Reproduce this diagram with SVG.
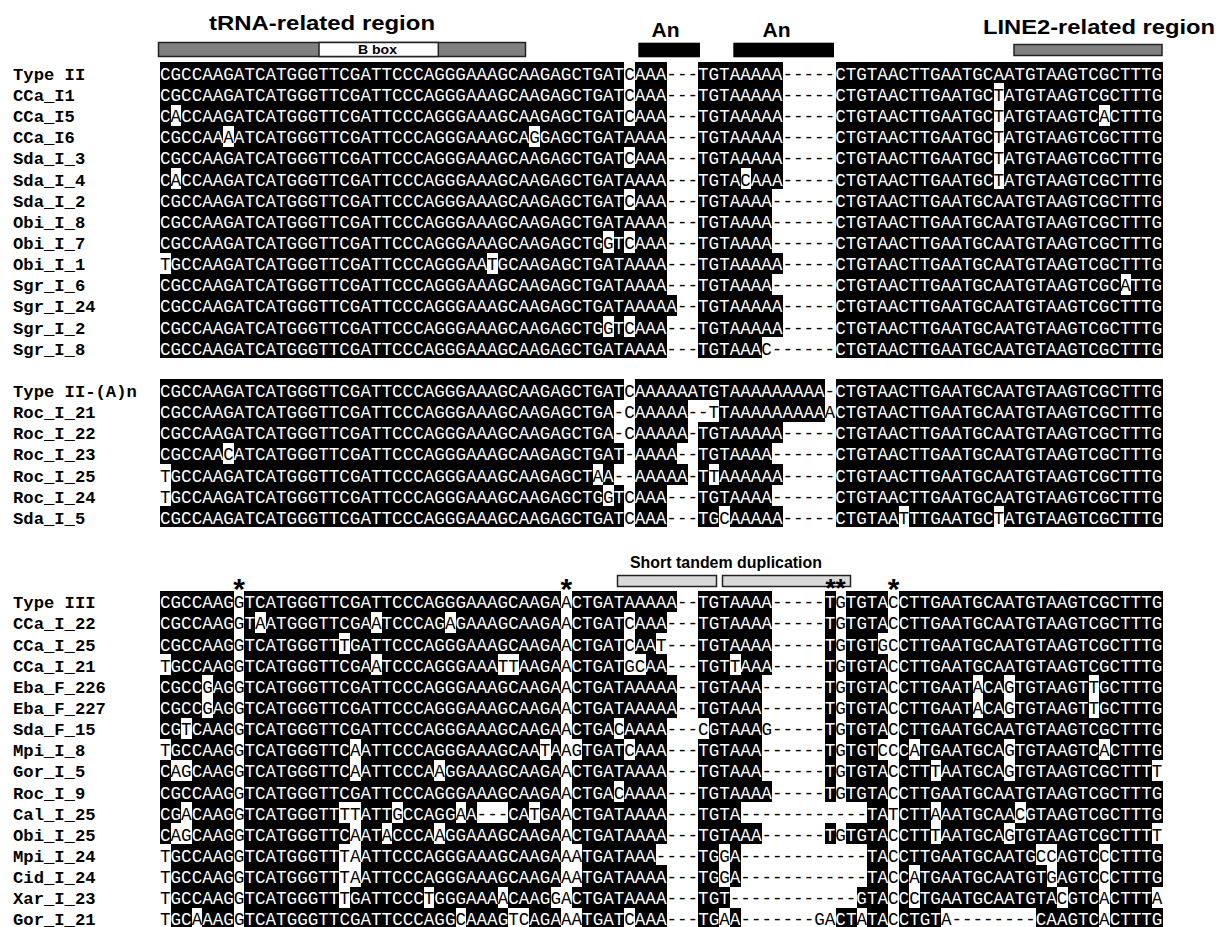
<svg xmlns="http://www.w3.org/2000/svg" width="1219" height="927" viewBox="0 0 1219 927">
<style>
.s{font-family:"Liberation Mono",monospace;font-size:17.59px;fill:#fff}
.k{fill:#000}
.n{font-family:"Liberation Mono",monospace;font-weight:bold;font-size:17.2px;fill:#000}
.h{font-family:"Liberation Sans",Arial,sans-serif;font-weight:bold;fill:#000}
.bar{stroke:#222;stroke-width:1.5}
</style>
<rect width="1219" height="927" fill="#fff"/>
<g id="headers">
<text class="h" x="209" y="30" font-size="20" textLength="226" lengthAdjust="spacingAndGlyphs">tRNA-related region</text>
<rect class="bar" x="158.5" y="42.5" width="367" height="14" fill="#808080"/>
<rect class="bar" x="319" y="42.5" width="119.3" height="14" fill="#fff"/>
<text class="h" x="358" y="54" font-size="12" textLength="39" lengthAdjust="spacingAndGlyphs">B box</text>
<text class="h" x="651.5" y="36.5" font-size="21" textLength="28" lengthAdjust="spacingAndGlyphs">An</text>
<text class="h" x="762.5" y="36.5" font-size="21" textLength="28" lengthAdjust="spacingAndGlyphs">An</text>
<rect x="638.3" y="42.7" width="61.7" height="14.6" fill="#000"/>
<rect x="733.3" y="42.7" width="100.7" height="14.6" fill="#000"/>
<text class="h" x="983" y="34.3" font-size="21" textLength="232" lengthAdjust="spacingAndGlyphs">LINE2-related region</text>
<rect class="bar" x="1014" y="44.5" width="148" height="11" fill="#808080"/>
<text class="h" x="630" y="568" font-size="16" textLength="192" lengthAdjust="spacingAndGlyphs">Short tandem duplication</text>
<rect class="bar" x="617.5" y="575.5" width="99" height="11" fill="#d9d9d9"/>
<rect class="bar" x="722.5" y="575.5" width="128" height="11" fill="#d9d9d9"/>
<text class="h" x="835.5" y="597" font-size="26" text-anchor="middle">**</text>
<text class="h" x="239.2" y="599" font-size="30" text-anchor="middle">*</text>
<text class="h" x="566.4" y="599" font-size="30" text-anchor="middle">*</text>
<text class="h" x="893.6" y="599" font-size="30" text-anchor="middle">*</text>
</g>
<g id="shading" fill="#000" shape-rendering="crispEdges" transform="translate(160 62.3) scale(10.555 21.136)">
<path d="M0 0h44v1h-44zM45 0h3v1h-3zM51 0h8v1h-8zM64 0h31v1h-31z"/>
<path d="M0 1h44v1h-44zM45 1h3v1h-3zM51 1h8v1h-8zM64 1h15v1h-15zM80 1h15v1h-15z"/>
<path d="M0 2h1v1h-1zM2 2h42v1h-42zM45 2h3v1h-3zM51 2h8v1h-8zM64 2h15v1h-15zM80 2h9v1h-9zM90 2h5v1h-5z"/>
<path d="M0 3h6v1h-6zM7 3h28v1h-28zM36 3h12v1h-12zM51 3h8v1h-8zM64 3h15v1h-15zM80 3h15v1h-15z"/>
<path d="M0 4h44v1h-44zM45 4h3v1h-3zM51 4h8v1h-8zM64 4h15v1h-15zM80 4h15v1h-15z"/>
<path d="M0 5h1v1h-1zM2 5h46v1h-46zM51 5h4v1h-4zM56 5h3v1h-3zM64 5h15v1h-15zM80 5h15v1h-15z"/>
<path d="M0 6h44v1h-44zM45 6h3v1h-3zM51 6h7v1h-7zM64 6h31v1h-31z"/>
<path d="M0 7h48v1h-48zM51 7h7v1h-7zM64 7h31v1h-31z"/>
<path d="M0 8h42v1h-42zM43 8h1v1h-1zM45 8h3v1h-3zM51 8h7v1h-7zM64 8h31v1h-31z"/>
<path d="M1 9h30v1h-30zM32 9h16v1h-16zM51 9h8v1h-8zM64 9h31v1h-31z"/>
<path d="M0 10h48v1h-48zM51 10h7v1h-7zM64 10h27v1h-27zM92 10h3v1h-3z"/>
<path d="M0 11h49v1h-49zM51 11h8v1h-8zM64 11h31v1h-31z"/>
<path d="M0 12h42v1h-42zM43 12h1v1h-1zM45 12h3v1h-3zM51 12h8v1h-8zM64 12h31v1h-31z"/>
<path d="M0 13h48v1h-48zM51 13h6v1h-6zM64 13h31v1h-31z"/>
<path d="M0 15h44v1h-44zM45 15h18v1h-18zM64 15h31v1h-31z"/>
<path d="M0 16h43v1h-43zM45 16h5v1h-5zM53 16h10v1h-10zM64 16h31v1h-31z"/>
<path d="M0 17h43v1h-43zM45 17h5v1h-5zM51 17h8v1h-8zM64 17h31v1h-31z"/>
<path d="M0 18h6v1h-6zM7 18h37v1h-37zM45 18h4v1h-4zM51 18h7v1h-7zM64 18h31v1h-31z"/>
<path d="M1 19h40v1h-40zM42 19h1v1h-1zM45 19h5v1h-5zM51 19h1v1h-1zM53 19h6v1h-6zM64 19h31v1h-31z"/>
<path d="M1 20h41v1h-41zM43 20h1v1h-1zM45 20h3v1h-3zM51 20h7v1h-7zM64 20h31v1h-31z"/>
<path d="M0 21h44v1h-44zM45 21h3v1h-3zM51 21h2v1h-2zM54 21h5v1h-5zM64 21h6v1h-6zM71 21h8v1h-8zM80 21h15v1h-15z"/>
<path d="M0 25h7v1h-7zM8 25h30v1h-30zM39 25h10v1h-10zM51 25h7v1h-7zM63 25h1v1h-1zM65 25h4v1h-4zM70 25h25v1h-25z"/>
<path d="M0 26h7v1h-7zM8 26h1v1h-1zM10 26h10v1h-10zM21 26h6v1h-6zM28 26h10v1h-10zM39 26h5v1h-5zM45 26h3v1h-3zM51 26h7v1h-7zM63 26h1v1h-1zM65 26h4v1h-4zM70 26h25v1h-25z"/>
<path d="M0 27h7v1h-7zM8 27h9v1h-9zM18 27h20v1h-20zM39 27h5v1h-5zM45 27h2v1h-2zM51 27h7v1h-7zM63 27h1v1h-1zM65 27h3v1h-3zM70 27h25v1h-25z"/>
<path d="M1 28h6v1h-6zM8 28h12v1h-12zM21 28h11v1h-11zM34 28h4v1h-4zM39 28h5v1h-5zM46 28h2v1h-2zM51 28h3v1h-3zM55 28h3v1h-3zM63 28h1v1h-1zM65 28h4v1h-4zM70 28h25v1h-25z"/>
<path d="M0 29h4v1h-4zM5 29h2v1h-2zM8 29h30v1h-30zM39 29h10v1h-10zM51 29h6v1h-6zM63 29h1v1h-1zM65 29h4v1h-4zM70 29h7v1h-7zM78 29h2v1h-2zM81 29h7v1h-7zM89 29h6v1h-6z"/>
<path d="M0 30h4v1h-4zM5 30h2v1h-2zM8 30h30v1h-30zM39 30h10v1h-10zM51 30h6v1h-6zM63 30h1v1h-1zM65 30h4v1h-4zM70 30h7v1h-7zM78 30h2v1h-2zM81 30h7v1h-7zM89 30h6v1h-6z"/>
<path d="M0 31h2v1h-2zM3 31h4v1h-4zM8 31h30v1h-30zM39 31h4v1h-4zM44 31h4v1h-4zM52 31h5v1h-5zM63 31h1v1h-1zM65 31h4v1h-4zM70 31h25v1h-25z"/>
<path d="M1 32h6v1h-6zM8 32h10v1h-10zM19 32h17v1h-17zM37 32h1v1h-1zM40 32h4v1h-4zM45 32h3v1h-3zM51 32h6v1h-6zM63 32h1v1h-1zM65 32h3v1h-3zM70 32h1v1h-1zM72 32h8v1h-8zM81 32h8v1h-8zM90 32h5v1h-5z"/>
<path d="M0 33h1v1h-1zM3 33h4v1h-4zM8 33h10v1h-10zM19 33h7v1h-7zM27 33h11v1h-11zM39 33h9v1h-9zM51 33h6v1h-6zM63 33h1v1h-1zM65 33h4v1h-4zM70 33h3v1h-3zM74 33h6v1h-6zM81 33h13v1h-13z"/>
<path d="M0 34h7v1h-7zM8 34h30v1h-30zM39 34h4v1h-4zM44 34h4v1h-4zM51 34h7v1h-7zM63 34h1v1h-1zM65 34h4v1h-4zM70 34h25v1h-25z"/>
<path d="M0 35h2v1h-2zM3 35h4v1h-4zM8 35h9v1h-9zM19 35h3v1h-3zM23 35h5v1h-5zM29 35h1v1h-1zM33 35h2v1h-2zM36 35h2v1h-2zM39 35h9v1h-9zM51 35h4v1h-4zM67 35h2v1h-2zM70 35h3v1h-3zM74 35h7v1h-7zM82 35h13v1h-13z"/>
<path d="M0 36h1v1h-1zM3 36h4v1h-4zM8 36h10v1h-10zM19 36h2v1h-2zM22 36h4v1h-4zM27 36h11v1h-11zM39 36h9v1h-9zM51 36h6v1h-6zM63 36h1v1h-1zM65 36h4v1h-4zM70 36h3v1h-3zM74 36h6v1h-6zM81 36h13v1h-13z"/>
<path d="M1 37h6v1h-6zM8 37h9v1h-9zM19 37h19v1h-19zM40 37h7v1h-7zM51 37h2v1h-2zM54 37h1v1h-1zM67 37h2v1h-2zM70 37h13v1h-13zM85 37h4v1h-4zM90 37h5v1h-5z"/>
<path d="M1 38h6v1h-6zM8 38h9v1h-9zM19 38h19v1h-19zM40 38h8v1h-8zM51 38h2v1h-2zM54 38h1v1h-1zM67 38h2v1h-2zM70 38h1v1h-1zM72 38h12v1h-12zM85 38h4v1h-4zM90 38h5v1h-5z"/>
<path d="M1 39h6v1h-6zM8 39h9v1h-9zM18 39h7v1h-7zM26 39h6v1h-6zM33 39h4v1h-4zM39 39h9v1h-9zM51 39h3v1h-3zM66 39h3v1h-3zM70 39h1v1h-1zM72 39h13v1h-13zM86 39h3v1h-3zM90 39h4v1h-4z"/>
<path d="M1 40h2v1h-2zM4 40h3v1h-3zM8 40h20v1h-20zM29 40h4v1h-4zM35 40h3v1h-3zM40 40h4v1h-4zM45 40h3v1h-3zM51 40h2v1h-2zM54 40h1v1h-1zM64 40h2v1h-2zM67 40h2v1h-2zM70 40h4v1h-4zM83 40h6v1h-6zM90 40h5v1h-5z"/>
</g>
<g id="names">
<text class="n" x="13" y="79.9">Type II</text>
<text class="n" x="13" y="101">CCa_I1</text>
<text class="n" x="13" y="122.2">CCa_I5</text>
<text class="n" x="13" y="143.3">CCa_I6</text>
<text class="n" x="13" y="164.4">Sda_I_3</text>
<text class="n" x="13" y="185.6">Sda_I_4</text>
<text class="n" x="13" y="206.7">Sda_I_2</text>
<text class="n" x="13" y="227.9">Obi_I_8</text>
<text class="n" x="13" y="249">Obi_I_7</text>
<text class="n" x="13" y="270.1">Obi_I_1</text>
<text class="n" x="13" y="291.3">Sgr_I_6</text>
<text class="n" x="13" y="312.4">Sgr_I_24</text>
<text class="n" x="13" y="333.5">Sgr_I_2</text>
<text class="n" x="13" y="354.7">Sgr_I_8</text>
<text class="n" x="13" y="396.9">Type II-(A)n</text>
<text class="n" x="13" y="418.1">Roc_I_21</text>
<text class="n" x="13" y="439.2">Roc_I_22</text>
<text class="n" x="13" y="460.3">Roc_I_23</text>
<text class="n" x="13" y="481.5">Roc_I_25</text>
<text class="n" x="13" y="502.6">Roc_I_24</text>
<text class="n" x="13" y="523.8">Sda_I_5</text>
<text class="n" x="13" y="608.3">Type III</text>
<text class="n" x="13" y="629.4">CCa_I_22</text>
<text class="n" x="13" y="650.6">CCa_I_25</text>
<text class="n" x="13" y="671.7">CCa_I_21</text>
<text class="n" x="13" y="692.8">Eba_F_226</text>
<text class="n" x="13" y="714">Eba_F_227</text>
<text class="n" x="13" y="735.1">Sda_F_15</text>
<text class="n" x="13" y="756.3">Mpi_I_8</text>
<text class="n" x="13" y="777.4">Gor_I_5</text>
<text class="n" x="13" y="798.5">Roc_I_9</text>
<text class="n" x="13" y="819.7">Cal_I_25</text>
<text class="n" x="13" y="840.8">Obi_I_25</text>
<text class="n" x="13" y="861.9">Mpi_I_24</text>
<text class="n" x="13" y="883.1">Cid_I_24</text>
<text class="n" x="13" y="904.2">Xar_I_23</text>
<text class="n" x="13" y="925.3">Gor_I_21</text>
</g>
<g id="sequences" class="s">
<text x="160" y="79.9">CGCCAAGATCATGGGTTCGATTCCCAGGGAAAGCAAGAGCTGAT<tspan class="k">C</tspan>AAA<tspan class="k">---</tspan>TGTAAAAA<tspan class="k">-----</tspan>CTGTAACTTGAATGCAATGTAAGTCGCTTTG</text>
<text x="160" y="101">CGCCAAGATCATGGGTTCGATTCCCAGGGAAAGCAAGAGCTGAT<tspan class="k">C</tspan>AAA<tspan class="k">---</tspan>TGTAAAAA<tspan class="k">-----</tspan>CTGTAACTTGAATGC<tspan class="k">T</tspan>ATGTAAGTCGCTTTG</text>
<text x="160" y="122.2">C<tspan class="k">A</tspan>CCAAGATCATGGGTTCGATTCCCAGGGAAAGCAAGAGCTGAT<tspan class="k">C</tspan>AAA<tspan class="k">---</tspan>TGTAAAAA<tspan class="k">-----</tspan>CTGTAACTTGAATGC<tspan class="k">T</tspan>ATGTAAGTC<tspan class="k">A</tspan>CTTTG</text>
<text x="160" y="143.3">CGCCAA<tspan class="k">A</tspan>ATCATGGGTTCGATTCCCAGGGAAAGCA<tspan class="k">G</tspan>GAGCTGATAAAA<tspan class="k">---</tspan>TGTAAAAA<tspan class="k">-----</tspan>CTGTAACTTGAATGC<tspan class="k">T</tspan>ATGTAAGTCGCTTTG</text>
<text x="160" y="164.4">CGCCAAGATCATGGGTTCGATTCCCAGGGAAAGCAAGAGCTGAT<tspan class="k">C</tspan>AAA<tspan class="k">---</tspan>TGTAAAAA<tspan class="k">-----</tspan>CTGTAACTTGAATGC<tspan class="k">T</tspan>ATGTAAGTCGCTTTG</text>
<text x="160" y="185.6">C<tspan class="k">A</tspan>CCAAGATCATGGGTTCGATTCCCAGGGAAAGCAAGAGCTGATAAAA<tspan class="k">---</tspan>TGTA<tspan class="k">C</tspan>AAA<tspan class="k">-----</tspan>CTGTAACTTGAATGC<tspan class="k">T</tspan>ATGTAAGTCGCTTTG</text>
<text x="160" y="206.7">CGCCAAGATCATGGGTTCGATTCCCAGGGAAAGCAAGAGCTGAT<tspan class="k">C</tspan>AAA<tspan class="k">---</tspan>TGTAAAA<tspan class="k">------</tspan>CTGTAACTTGAATGCAATGTAAGTCGCTTTG</text>
<text x="160" y="227.9">CGCCAAGATCATGGGTTCGATTCCCAGGGAAAGCAAGAGCTGATAAAA<tspan class="k">---</tspan>TGTAAAA<tspan class="k">------</tspan>CTGTAACTTGAATGCAATGTAAGTCGCTTTG</text>
<text x="160" y="249">CGCCAAGATCATGGGTTCGATTCCCAGGGAAAGCAAGAGCTG<tspan class="k">G</tspan>T<tspan class="k">C</tspan>AAA<tspan class="k">---</tspan>TGTAAAA<tspan class="k">------</tspan>CTGTAACTTGAATGCAATGTAAGTCGCTTTG</text>
<text x="160" y="270.1"><tspan class="k">T</tspan>GCCAAGATCATGGGTTCGATTCCCAGGGAA<tspan class="k">T</tspan>GCAAGAGCTGATAAAA<tspan class="k">---</tspan>TGTAAAAA<tspan class="k">-----</tspan>CTGTAACTTGAATGCAATGTAAGTCGCTTTG</text>
<text x="160" y="291.3">CGCCAAGATCATGGGTTCGATTCCCAGGGAAAGCAAGAGCTGATAAAA<tspan class="k">---</tspan>TGTAAAA<tspan class="k">------</tspan>CTGTAACTTGAATGCAATGTAAGTCGC<tspan class="k">A</tspan>TTG</text>
<text x="160" y="312.4">CGCCAAGATCATGGGTTCGATTCCCAGGGAAAGCAAGAGCTGATAAAAA<tspan class="k">--</tspan>TGTAAAAA<tspan class="k">-----</tspan>CTGTAACTTGAATGCAATGTAAGTCGCTTTG</text>
<text x="160" y="333.5">CGCCAAGATCATGGGTTCGATTCCCAGGGAAAGCAAGAGCTG<tspan class="k">G</tspan>T<tspan class="k">C</tspan>AAA<tspan class="k">---</tspan>TGTAAAAA<tspan class="k">-----</tspan>CTGTAACTTGAATGCAATGTAAGTCGCTTTG</text>
<text x="160" y="354.7">CGCCAAGATCATGGGTTCGATTCCCAGGGAAAGCAAGAGCTGATAAAA<tspan class="k">---</tspan>TGTAAA<tspan class="k">C------</tspan>CTGTAACTTGAATGCAATGTAAGTCGCTTTG</text>
<text x="160" y="396.9">CGCCAAGATCATGGGTTCGATTCCCAGGGAAAGCAAGAGCTGAT<tspan class="k">C</tspan>AAAAAATGTAAAAAAAAA<tspan class="k">-</tspan>CTGTAACTTGAATGCAATGTAAGTCGCTTTG</text>
<text x="160" y="418.1">CGCCAAGATCATGGGTTCGATTCCCAGGGAAAGCAAGAGCTGA<tspan class="k">-C</tspan>AAAAA<tspan class="k">--T</tspan>TAAAAAAAAA<tspan class="k">A</tspan>CTGTAACTTGAATGCAATGTAAGTCGCTTTG</text>
<text x="160" y="439.2">CGCCAAGATCATGGGTTCGATTCCCAGGGAAAGCAAGAGCTGA<tspan class="k">-C</tspan>AAAAA<tspan class="k">-</tspan>TGTAAAAA<tspan class="k">-----</tspan>CTGTAACTTGAATGCAATGTAAGTCGCTTTG</text>
<text x="160" y="460.3">CGCCAA<tspan class="k">C</tspan>ATCATGGGTTCGATTCCCAGGGAAAGCAAGAGCTGAT<tspan class="k">-</tspan>AAAA<tspan class="k">--</tspan>TGTAAAA<tspan class="k">------</tspan>CTGTAACTTGAATGCAATGTAAGTCGCTTTG</text>
<text x="160" y="481.5"><tspan class="k">T</tspan>GCCAAGATCATGGGTTCGATTCCCAGGGAAAGCAAGAGCT<tspan class="k">A</tspan>A<tspan class="k">--</tspan>AAAAA<tspan class="k">-</tspan>T<tspan class="k">T</tspan>AAAAAA<tspan class="k">-----</tspan>CTGTAACTTGAATGCAATGTAAGTCGCTTTG</text>
<text x="160" y="502.6"><tspan class="k">T</tspan>GCCAAGATCATGGGTTCGATTCCCAGGGAAAGCAAGAGCTG<tspan class="k">G</tspan>T<tspan class="k">C</tspan>AAA<tspan class="k">---</tspan>TGTAAAA<tspan class="k">------</tspan>CTGTAACTTGAATGCAATGTAAGTCGCTTTG</text>
<text x="160" y="523.8">CGCCAAGATCATGGGTTCGATTCCCAGGGAAAGCAAGAGCTGAT<tspan class="k">C</tspan>AAA<tspan class="k">---</tspan>TG<tspan class="k">C</tspan>AAAAA<tspan class="k">-----</tspan>CTGTAA<tspan class="k">T</tspan>TTGAATGC<tspan class="k">T</tspan>ATGTAAGTCGCTTTG</text>
<text x="160" y="608.3">CGCCAAG<tspan class="k">G</tspan>TCATGGGTTCGATTCCCAGGGAAAGCAAGA<tspan class="k">A</tspan>CTGATAAAAA<tspan class="k">--</tspan>TGTAAAA<tspan class="k">-----</tspan>T<tspan class="k">G</tspan>TGTA<tspan class="k">C</tspan>CTTGAATGCAATGTAAGTCGCTTTG</text>
<text x="160" y="629.4">CGCCAAG<tspan class="k">G</tspan>T<tspan class="k">A</tspan>ATGGGTTCGA<tspan class="k">A</tspan>TCCCAG<tspan class="k">A</tspan>GAAAGCAAGA<tspan class="k">A</tspan>CTGAT<tspan class="k">C</tspan>AAA<tspan class="k">---</tspan>TGTAAAA<tspan class="k">-----</tspan>T<tspan class="k">G</tspan>TGTA<tspan class="k">C</tspan>CTTGAATGCAATGTAAGTCGCTTTG</text>
<text x="160" y="650.6">CGCCAAG<tspan class="k">G</tspan>TCATGGGTT<tspan class="k">T</tspan>GATTCCCAGGGAAAGCAAGA<tspan class="k">A</tspan>CTGAT<tspan class="k">C</tspan>AA<tspan class="k">T---</tspan>TGTAAAA<tspan class="k">-----</tspan>T<tspan class="k">G</tspan>TGT<tspan class="k">GC</tspan>CTTGAATGCAATGTAAGTCGCTTTG</text>
<text x="160" y="671.7"><tspan class="k">T</tspan>GCCAAG<tspan class="k">G</tspan>TCATGGGTTCGA<tspan class="k">A</tspan>TCCCAGGGAAA<tspan class="k">TT</tspan>AAGA<tspan class="k">A</tspan>CTGAT<tspan class="k">GC</tspan>AA<tspan class="k">---</tspan>TGT<tspan class="k">T</tspan>AAA<tspan class="k">-----</tspan>T<tspan class="k">G</tspan>TGTA<tspan class="k">C</tspan>CTTGAATGCAATGTAAGTCGCTTTG</text>
<text x="160" y="692.8">CGCC<tspan class="k">G</tspan>AG<tspan class="k">G</tspan>TCATGGGTTCGATTCCCAGGGAAAGCAAGA<tspan class="k">A</tspan>CTGATAAAAA<tspan class="k">--</tspan>TGTAAA<tspan class="k">------</tspan>T<tspan class="k">G</tspan>TGTA<tspan class="k">C</tspan>CTTGAAT<tspan class="k">A</tspan>CA<tspan class="k">G</tspan>TGTAAGT<tspan class="k">T</tspan>GCTTTG</text>
<text x="160" y="714">CGCC<tspan class="k">G</tspan>AG<tspan class="k">G</tspan>TCATGGGTTCGATTCCCAGGGAAAGCAAGA<tspan class="k">A</tspan>CTGATAAAAA<tspan class="k">--</tspan>TGTAAA<tspan class="k">------</tspan>T<tspan class="k">G</tspan>TGTA<tspan class="k">C</tspan>CTTGAAT<tspan class="k">A</tspan>CA<tspan class="k">G</tspan>TGTAAGT<tspan class="k">T</tspan>GCTTTG</text>
<text x="160" y="735.1">CG<tspan class="k">T</tspan>CAAG<tspan class="k">G</tspan>TCATGGGTTCGATTCCCAGGGAAAGCAAGA<tspan class="k">A</tspan>CTGA<tspan class="k">C</tspan>AAAA<tspan class="k">---C</tspan>GTAAA<tspan class="k">G-----</tspan>T<tspan class="k">G</tspan>TGTA<tspan class="k">C</tspan>CTTGAATGCAATGTAAGTCGCTTTG</text>
<text x="160" y="756.3"><tspan class="k">T</tspan>GCCAAG<tspan class="k">G</tspan>TCATGGGTTC<tspan class="k">A</tspan>ATTCCCAGGGAAAGCAA<tspan class="k">T</tspan>A<tspan class="k">AG</tspan>TGAT<tspan class="k">C</tspan>AAA<tspan class="k">---</tspan>TGTAAA<tspan class="k">------</tspan>T<tspan class="k">G</tspan>TGT<tspan class="k">CC</tspan>C<tspan class="k">A</tspan>TGAATGCA<tspan class="k">G</tspan>TGTAAGTC<tspan class="k">A</tspan>CTTTG</text>
<text x="160" y="777.4">C<tspan class="k">AG</tspan>CAAG<tspan class="k">G</tspan>TCATGGGTTC<tspan class="k">A</tspan>ATTCCCA<tspan class="k">A</tspan>GGAAAGCAAGA<tspan class="k">A</tspan>CTGATAAAA<tspan class="k">---</tspan>TGTAAA<tspan class="k">------</tspan>T<tspan class="k">G</tspan>TGTA<tspan class="k">C</tspan>CTT<tspan class="k">T</tspan>AATGCA<tspan class="k">G</tspan>TGTAAGTCGCTTT<tspan class="k">T</tspan></text>
<text x="160" y="798.5">CGCCAAG<tspan class="k">G</tspan>TCATGGGTTCGATTCCCAGGGAAAGCAAGA<tspan class="k">A</tspan>CTGA<tspan class="k">C</tspan>AAAA<tspan class="k">---</tspan>TGTAAAA<tspan class="k">-----</tspan>T<tspan class="k">G</tspan>TGTA<tspan class="k">C</tspan>CTTGAATGCAATGTAAGTCGCTTTG</text>
<text x="160" y="819.7">CG<tspan class="k">A</tspan>CAAG<tspan class="k">G</tspan>TCATGGGTT<tspan class="k">TT</tspan>ATT<tspan class="k">G</tspan>CCAGG<tspan class="k">A</tspan>A<tspan class="k">---</tspan>CA<tspan class="k">T</tspan>GA<tspan class="k">A</tspan>CTGATAAAA<tspan class="k">---</tspan>TGTA<tspan class="k">------------</tspan>TA<tspan class="k">T</tspan>CTT<tspan class="k">A</tspan>AATGCAA<tspan class="k">C</tspan>GTAAGTCGCTTTG</text>
<text x="160" y="840.8">C<tspan class="k">AG</tspan>CAAG<tspan class="k">G</tspan>TCATGGGTTC<tspan class="k">A</tspan>AT<tspan class="k">A</tspan>CCCA<tspan class="k">A</tspan>GGAAAGCAAGA<tspan class="k">A</tspan>CTGATAAAA<tspan class="k">---</tspan>TGTAAA<tspan class="k">------</tspan>T<tspan class="k">G</tspan>TGTA<tspan class="k">C</tspan>CTT<tspan class="k">T</tspan>AATGCA<tspan class="k">G</tspan>TGTAAGTCGCTTT<tspan class="k">T</tspan></text>
<text x="160" y="861.9"><tspan class="k">T</tspan>GCCAAG<tspan class="k">G</tspan>TCATGGGTT<tspan class="k">TA</tspan>ATTCCCAGGGAAAGCAAGA<tspan class="k">AA</tspan>TGATAAA<tspan class="k">----</tspan>TG<tspan class="k">G</tspan>A<tspan class="k">------------</tspan>TA<tspan class="k">C</tspan>CTTGAATGCAATG<tspan class="k">CC</tspan>AGTC<tspan class="k">C</tspan>CTTTG</text>
<text x="160" y="883.1"><tspan class="k">T</tspan>GCCAAG<tspan class="k">G</tspan>TCATGGGTT<tspan class="k">TA</tspan>ATTCCCAGGGAAAGCAAGA<tspan class="k">AA</tspan>TGATAAAA<tspan class="k">---</tspan>TG<tspan class="k">G</tspan>A<tspan class="k">------------</tspan>TA<tspan class="k">C</tspan>C<tspan class="k">A</tspan>TGAATGCAATGT<tspan class="k">G</tspan>AGTC<tspan class="k">C</tspan>CTTTG</text>
<text x="160" y="904.2"><tspan class="k">T</tspan>GCCAAG<tspan class="k">G</tspan>TCATGGGTT<tspan class="k">T</tspan>GATTCCC<tspan class="k">T</tspan>GGGAAA<tspan class="k">A</tspan>CAAG<tspan class="k">GA</tspan>CTGATAAAA<tspan class="k">---</tspan>TGT<tspan class="k">------------</tspan>GTA<tspan class="k">C</tspan>C<tspan class="k">C</tspan>TGAATGCAATGTA<tspan class="k">C</tspan>GTC<tspan class="k">A</tspan>CTTT<tspan class="k">A</tspan></text>
<text x="160" y="925.3"><tspan class="k">T</tspan>GC<tspan class="k">A</tspan>AAG<tspan class="k">G</tspan>TCATGGGTTCGATTCCCAGG<tspan class="k">C</tspan>AAAG<tspan class="k">TC</tspan>AGA<tspan class="k">AA</tspan>TGAT<tspan class="k">C</tspan>AAA<tspan class="k">---</tspan>TG<tspan class="k">A</tspan>A<tspan class="k">-------GA</tspan>CT<tspan class="k">A</tspan>TA<tspan class="k">C</tspan>CTGT<tspan class="k">A--------</tspan>CAAGTC<tspan class="k">A</tspan>CTTTG</text>
</g>
</svg>
